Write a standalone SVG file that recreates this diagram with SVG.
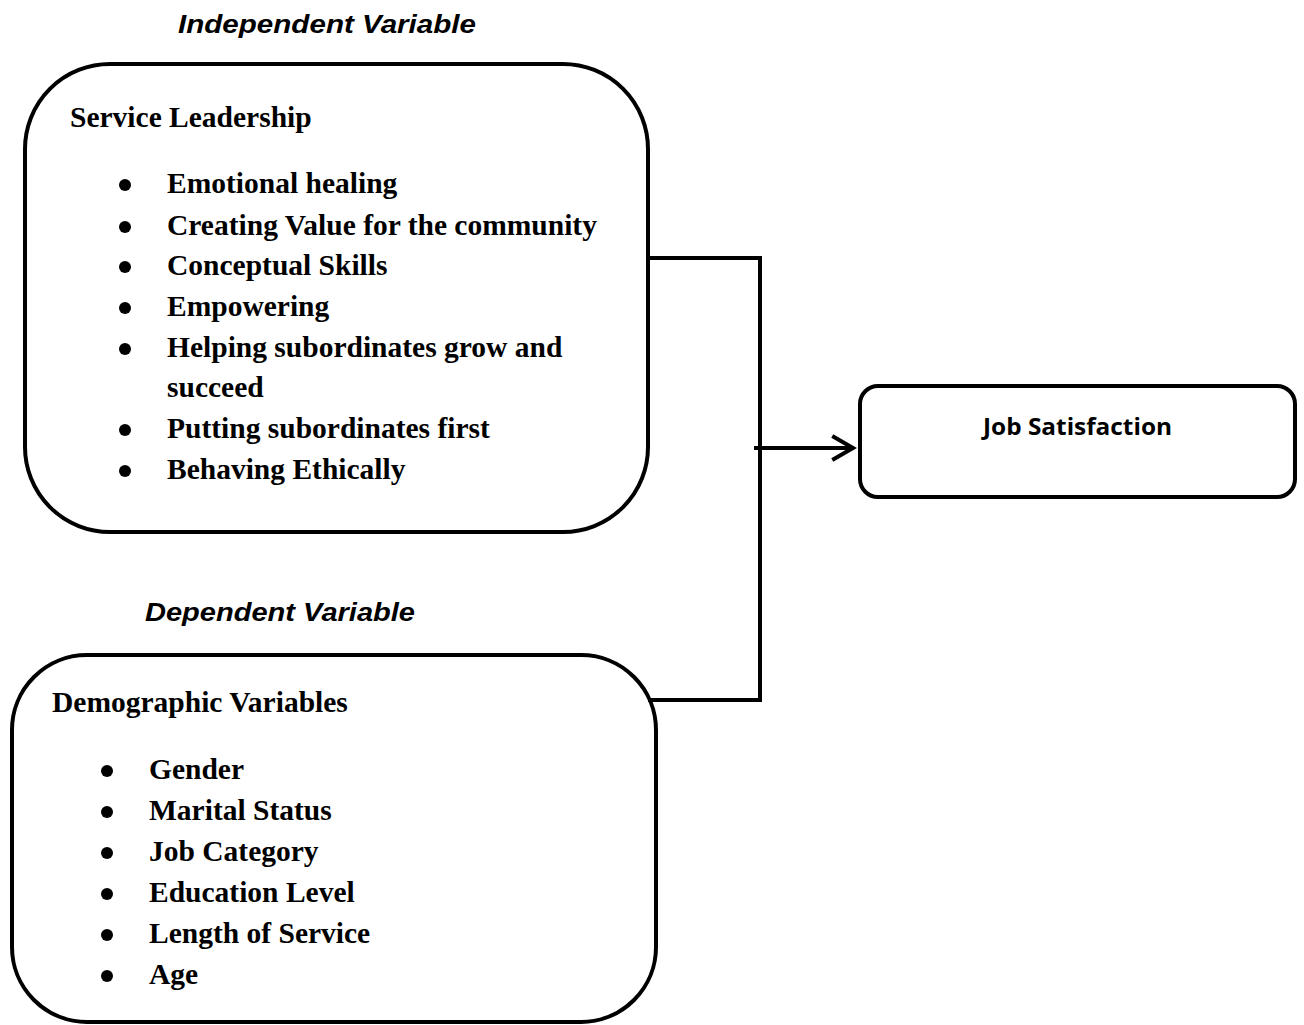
<svg xmlns="http://www.w3.org/2000/svg" width="1304" height="1025" viewBox="0 0 1304 1025">
<style>
.box{fill:none;stroke:#000;stroke-width:4}
.hdr{font-family:"Liberation Sans",Arial,sans-serif;font-weight:bold;font-style:italic;font-size:26px;fill:#000}
.t{font-family:"Liberation Serif","Times New Roman",serif;font-weight:bold;font-size:29.5px;fill:#000}
.js{font-family:"Open Sans","Liberation Sans",sans-serif;font-weight:bold;font-size:23px;fill:#000}
.con{fill:none;stroke:#000;stroke-width:4;stroke-linecap:square}
.b{fill:#000}
</style>
<rect width="1304" height="1025" fill="#fff"/>
<text class="hdr" x="178" y="33" textLength="298" lengthAdjust="spacingAndGlyphs">Independent Variable</text>
<text class="hdr" x="145" y="621" textLength="270" lengthAdjust="spacingAndGlyphs">Dependent Variable</text>
<g id="service-leadership">
<rect class="box" x="25" y="64" width="623" height="468" rx="85" ry="85"/>
<text class="t" x="70" y="127">Service Leadership</text>
<g class="b">
<circle cx="125" cy="185" r="6"/><circle cx="125" cy="227" r="6"/><circle cx="125" cy="267" r="6"/>
<circle cx="125" cy="308" r="6"/><circle cx="125" cy="349" r="6"/><circle cx="125" cy="430" r="6"/>
<circle cx="125" cy="471" r="6"/>
</g>
<g class="t">
<text x="167" y="193">Emotional healing</text>
<text x="167" y="235">Creating Value for the community</text>
<text x="167" y="275">Conceptual Skills</text>
<text x="167" y="316">Empowering</text>
<text x="167" y="357">Helping subordinates grow and</text>
<text x="167" y="397">succeed</text>
<text x="167" y="438">Putting subordinates first</text>
<text x="167" y="479">Behaving Ethically</text>
</g>
</g>
<g id="demographic-variables">
<rect class="box" x="12" y="655" width="644" height="367" rx="75" ry="75"/>
<text class="t" x="52" y="712">Demographic Variables</text>
<g class="b">
<circle cx="107" cy="771" r="6"/><circle cx="107" cy="812" r="6"/><circle cx="107" cy="853" r="6"/>
<circle cx="107" cy="894" r="6"/><circle cx="107" cy="935" r="6"/><circle cx="107" cy="976" r="6"/>
</g>
<g class="t">
<text x="149" y="779">Gender</text>
<text x="149" y="820">Marital Status</text>
<text x="149" y="861">Job Category</text>
<text x="149" y="902">Education Level</text>
<text x="149" y="943">Length of Service</text>
<text x="149" y="984">Age</text>
</g>
</g>
<g id="job-satisfaction">
<rect class="box" x="860" y="386" width="435" height="111" rx="18" ry="18"/>
<text class="js" x="983" y="435" textLength="189" lengthAdjust="spacingAndGlyphs">Job Satisfaction</text>
</g>
<g id="connectors">
<polyline class="con" points="650,258 760,258 760,700 650,700"/>
<line class="con" x1="756" y1="448" x2="852" y2="448"/>
<polyline class="con" points="834,437 853,448 834,459" stroke-linejoin="miter"/>
</g>
</svg>
